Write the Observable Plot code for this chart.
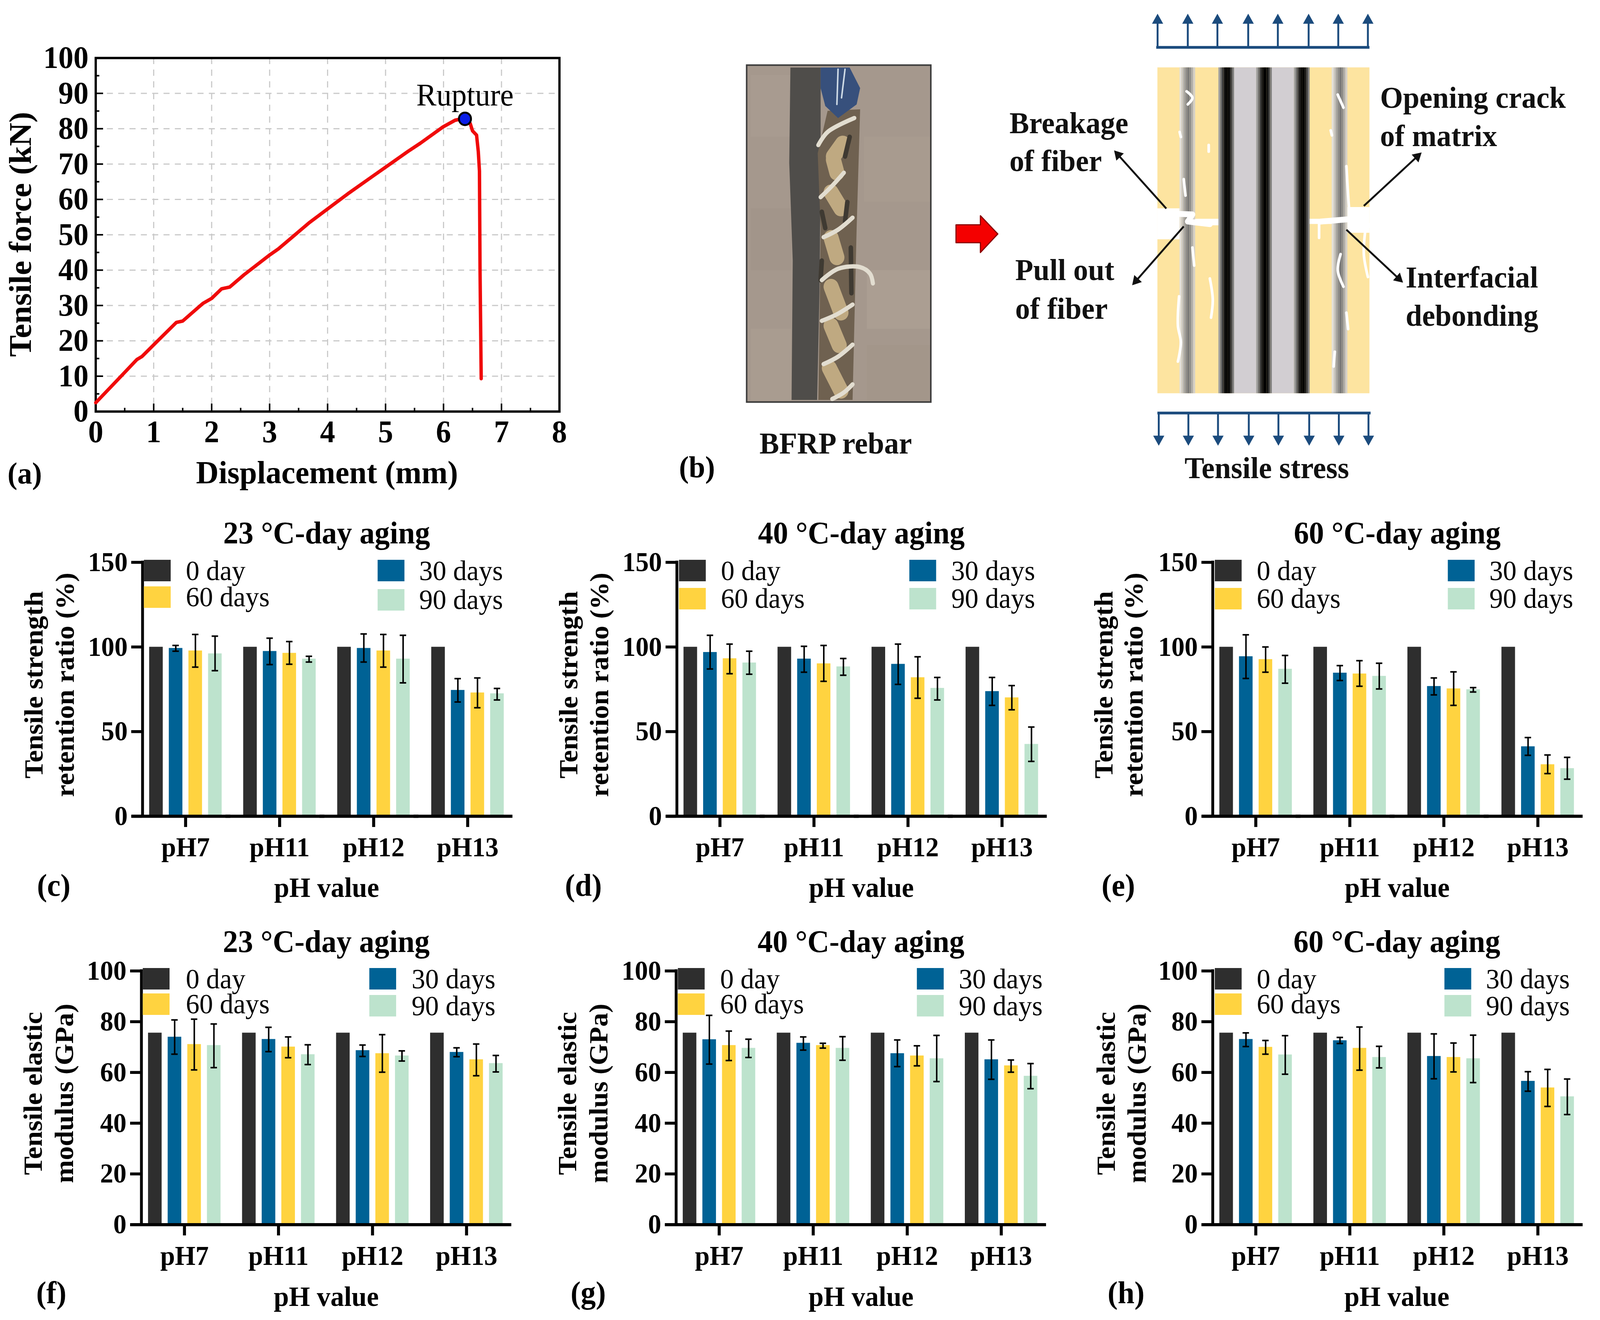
<!DOCTYPE html>
<html><head><meta charset="utf-8">
<script src="https://cdn.jsdelivr.net/npm/d3@7"></script>
<script src="https://cdn.jsdelivr.net/npm/@observablehq/plot@0.6"></script>
<style>
html,body{margin:0;padding:0;background:#fff;overflow:hidden;}
#page{position:relative;width:4237px;height:3379px;overflow:hidden;background:#fff;font-family:"Liberation Serif",serif;color:#000;transform-origin:0 0;}
#page svg{position:absolute;max-width:none;overflow:visible;background:transparent;}
.t{position:absolute;left:0;top:0;white-space:pre;line-height:1;transform-origin:0 0;}
.s{position:absolute;}
</style></head><body><div id="page"></div>
<script>
// ---------- data: shared categories ----------
const phValues = ["pH7","pH11","pH12","pH13"];
const durations = ["0 day","30 days","60 days","90 days"];
const durationColors = ["#2e2e2e","#006295","#ffd340","#bde3cd"];
const legendOrder = ["0 day","60 days","30 days","90 days"];

// ---------- data: tensile strength retention (%) rows pH, columns 30/60/90 days ----------
const base0Strength = 100;
const strength23 = [[99.3,97.8,96.1],[97.5,96.4,93.0],[99.3,97.8,93.0],[74.5,73.0,72.5]];
const strength23Low = [[97.5,88.1,86.0],[89.6,89.8,91.1],[91.1,88.1,78.8],[67.5,64.1,68.7]];
const strength23High = [[100.9,107.4,106.4],[105.2,103.2,94.5],[107.7,107.4,106.9],[81.3,81.7,75.5]];
const strength40 = [[96.9,93.2,90.7],[93.0,90.2,88.4],[89.9,82.0,75.7],[73.8,70.1,42.6]];
const strength40Low = [[87.0,84.2,83.9],[85.1,79.7,83.3],[77.9,69.7,68.7],[65.5,62.9,32.4]];
const strength40High = [[106.9,101.7,97.5],[100.4,100.9,93.2],[101.7,94.2,82.0],[82.0,77.2,52.7]];
const strength60 = [[94.4,92.7,87.0],[84.7,84.2,82.8],[76.8,75.4,74.9],[41.2,30.6,28.3]];
const strength60Low = [[81.4,85.1,78.6],[80.2,76.8,75.2],[71.7,65.5,73.4],[36.0,25.2,21.9]];
const strength60High = [[107.2,100.0,95.0],[89.0,91.9,90.4],[81.7,85.3,76.0],[46.5,36.2,34.8]];

// ---------- data: tensile elastic modulus (GPa) ----------
const base0Modulus = 75.6;
const modulus23 = [[74.0,71.1,70.7],[73.1,70.1,67.1],[68.7,67.5,66.6],[68.0,65.1,63.6]];
const modulus23Low = [[67.2,61.0,61.9],[68.2,65.8,63.1],[66.3,60.1,64.5],[66.2,58.7,60.2]];
const modulus23High = [[80.7,81.0,79.1],[77.8,74.0,70.9],[70.8,74.9,68.5],[69.7,71.2,66.7]];
const modulus40 = [[73.0,70.7,69.6],[71.6,70.7,69.6],[67.5,66.6,65.5],[65.1,62.7,58.6]];
const modulus40Low = [[63.3,64.7,65.9],[68.8,69.6,64.8],[62.3,62.6,56.4],[57.3,60.1,53.6]];
const modulus40High = [[82.5,76.3,73.1],[74.0,71.5,74.1],[72.8,70.5,74.6],[72.8,64.9,63.5]];
const modulus60 = [[73.1,70.0,67.0],[72.6,69.6,66.0],[66.4,66.0,65.5],[56.6,54.0,50.5]];
const modulus60Low = [[70.2,67.2,59.3],[71.4,60.9,61.8],[57.5,60.2,56.0],[52.6,46.6,43.4]];
const modulus60High = [[75.6,72.6,74.5],[73.8,77.9,70.3],[75.2,71.6,74.7],[60.3,61.2,57.4]];

// ---------- data: load-displacement curve, panel (a) ----------
const displacement = [0,0.35,0.71,0.8,1.1,1.39,1.5,1.85,2.0,2.17,2.31,2.56,3.01,3.15,3.69,4.0,4.35,4.79,5.38,5.6,5.99,6.2,6.37,6.46,6.5,6.57,6.6,6.62,6.63,6.65];
const tensileForce = [2.5,8.5,14.7,15.6,20.5,25.2,25.6,30.6,32,34.7,35.2,38.7,44.4,46,53.5,57.3,61.6,66.7,73.5,75.9,80.5,82.4,83,81.5,79.4,78.2,73.5,68,40,9.3];
const ruptureX = 6.37, ruptureY = 82.8;
const xTicksA = [0,1,2,3,4,5,6,7,8];
const xMinorA = [0.5,1.5,2.5,3.5,4.5,5.5,6.5,7.5];
const yTicksA = [0,10,20,30,40,50,60,70,80,90,100];
const yMinorA = [5,15,25,35,45,55,65,75,85,95];

// ---------- helpers ----------
const page = document.getElementById("page");
// the browser window is narrower than the reference: the whole drawing is fitted to its width
page.style.transform = `scaleX(${Math.min(1, document.documentElement.clientWidth/4237)})`;
const SERIF = '"Liberation Serif", serif';
function label(text,x,y,size,{bold=true,anchor="start",rotate=0,color="#000"}={}){
  const d=document.createElement("div");d.className="t";d.textContent=text;
  d.style.fontSize=size+"px";d.style.fontWeight=bold?"bold":"normal";d.style.color=color;
  const ax=anchor==="middle"?"-50%":anchor==="end"?"-100%":"0";
  d.style.transform=`translate(${x}px,${y}px) rotate(${rotate}deg) translate(${ax},-0.8375em)`;
  page.appendChild(d);
}
function swatch(x,y,w,h,c){
  const d=document.createElement("div");d.className="s";
  d.style.cssText+=`left:${x}px;top:${y}px;width:${w}px;height:${h}px;background:${c};`;
  page.appendChild(d);
}
function place(svg,left,top){svg.style.left=left+"px";svg.style.top=top+"px";page.appendChild(svg);}
function table(mean,low,high,base){
  const rows=[];
  phValues.forEach((ph,i)=>{
    rows.push({ph,day:durations[0],v:base});
    durations.slice(1).forEach((day,j)=>rows.push({ph,day,v:mean[i][j],lo:low[i][j],hi:high[i][j]}));
  });
  return rows;
}

// ---------- panels (c)-(h) ----------
const W = 944.2, ML = 300, MT = 50, MB = 140, MR = 60;
const strengthRow = {yMax:150,yTicks:[0,50,100,150],yTop:1439,y0:2089,lines:["Tensile strength","retention ratio (%)"],yc:1753,
  titleBase:1391,valueBase:2296,letterBase:2293,rowH:55,row1:1433};
const modulusRow = {yMax:100,yTicks:[0,20,40,60,80,100],yTop:2484.5,y0:3134,lines:["Tensile elastic","modulus (GPa)"],yc:2799,
  titleBase:2437,valueBase:3343,letterBase:3336,rowH:55,row1:2478};
const panels = [
 {r:strengthRow,base:base0Strength,m:strength23,l:strength23Low,h:strength23High,title:"23 °C-day aging",bar:392,cx:865,lab:"(c)",labX:98,b1:113,b2:196,sw1:381,sw2:1000,tx1:492,tx2:1110,rowL:1501,rowR:1508,tL:1552,tR:1559},
 {r:strengthRow,base:base0Strength,m:strength40,l:strength40Low,h:strength40High,title:"40 °C-day aging",bar:1807,cx:2281,lab:"(d)",labX:1496,b1:1529,b2:1611,sw1:1798,sw2:2408,tx1:1909,tx2:2519,rowL:1505,rowR:1505,tL:1556,tR:1556},
 {r:strengthRow,base:base0Strength,m:strength60,l:strength60Low,h:strength60High,title:"60 °C-day aging",bar:3226,cx:3700,lab:"(e)",labX:2917,b1:2947,b2:3026,sw1:3217,sw2:3834,tx1:3328,tx2:3944,rowL:1505,rowR:1505,tL:1556,tR:1556},
 {r:modulusRow,base:base0Modulus,m:modulus23,l:modulus23Low,h:modulus23High,title:"23 °C-day aging",bar:389,cx:864,lab:"(f)",labX:96,b1:111,b2:194,sw1:378,sw2:978,tx1:492,tx2:1090,rowL:2543,rowR:2547,tL:2594,tR:2599},
 {r:modulusRow,base:base0Modulus,m:modulus40,l:modulus40Low,h:modulus40High,title:"40 °C-day aging",bar:1805,cx:2280,lab:"(g)",labX:1511,b1:1526,b2:1609,sw1:1795,sw2:2428,tx1:1907,tx2:2539,rowL:2543,rowR:2547,tL:2594,tR:2599},
 {r:modulusRow,base:base0Modulus,m:modulus60,l:modulus60Low,h:modulus60High,title:"60 °C-day aging",bar:3226,cx:3699,lab:"(h)",labX:2933,b1:2953,b2:3034,sw1:3217,sw2:3825,tx1:3328,tx2:3935,rowL:2543,rowR:2547,tL:2594,tR:2599},
];
panels.forEach(p=>{
  const r=p.r, rows=table(p.m,p.l,p.h,p.base), errs=rows.filter(d=>d.lo!=null);
  const svg=Plot.plot({
    width:W+ML+MR,height:(r.y0-r.yTop)+MT+MB,
    marginLeft:ML,marginRight:MR,marginTop:MT,marginBottom:MB,
    style:{fontFamily:SERIF,fontWeight:"bold",background:"transparent",overflow:"visible",color:"#000"},
    fx:{domain:phValues,paddingInner:0.214,paddingOuter:0,axis:null,label:null},
    x:{domain:durations,paddingInner:0.3,paddingOuter:0,axis:null,label:null},
    y:{domain:[0,r.yMax],axis:null,label:null},
    color:{domain:durations,range:durationColors},
    marks:[
      Plot.barY(rows,{fx:"ph",x:"day",y:"v",fill:"day"}),
      Plot.ruleX(errs,{fx:"ph",x:"day",y1:"lo",y2:"hi",stroke:"#000",strokeWidth:4}),
      Plot.tickY(errs,{fx:"ph",x:"day",y:"lo",stroke:"#000",strokeWidth:4,insetLeft:9.5,insetRight:9.5}),
      Plot.tickY(errs,{fx:"ph",x:"day",y:"hi",stroke:"#000",strokeWidth:4,insetLeft:9.5,insetRight:9.5}),
      Plot.ruleX([{ph:phValues[0],day:durations[0]}],{fx:"ph",x:"day",y1:()=>0,y2:()=>r.yMax,dx:-36,stroke:"#000",strokeWidth:7.5,strokeLinecap:"square"}),
      Plot.ruleY([0],{stroke:"#000",strokeWidth:8,insetLeft:-45,insetRight:-21}),
      Plot.axisY({anchor:"left",ticks:r.yTicks,tickSize:28,tickPadding:10,dx:-17.5,fontSize:70,stroke:"#000",strokeWidth:7.5,fill:"#000",label:null,tickFormat:d=>String(d)}),
      Plot.axisFx({anchor:"bottom",tickSize:28,tickPadding:25,fontSize:70,stroke:"#000",strokeWidth:8,fill:"#000",label:null})
    ]
  });
  place(svg,p.bar-ML,r.yTop-MT);
  label(p.title,p.cx,r.titleBase,80,{anchor:"middle"});
  label(r.lines[0],p.b1,r.yc,71,{anchor:"middle",rotate:-90});
  label(r.lines[1],p.b2,r.yc,71,{anchor:"middle",rotate:-90});
  label("pH value",p.cx,r.valueBase,72,{anchor:"middle"});
  label(p.lab,p.labX,r.letterBase,80);
  const col=c=>durationColors[durations.indexOf(c)];
  swatch(p.sw1,r.row1,71,r.rowH,col(legendOrder[0]));
  swatch(p.sw1,p.rowL,71,r.rowH,col(legendOrder[1]));
  swatch(p.sw2,r.row1,71,r.rowH,col(legendOrder[2]));
  swatch(p.sw2,p.rowR,71,r.rowH,col(legendOrder[3]));
  const t1=r.row1+52;
  label(legendOrder[0],p.tx1,t1,72,{bold:false});
  label(legendOrder[1],p.tx1,p.tL,72,{bold:false});
  label(legendOrder[2],p.tx2,t1,72,{bold:false});
  label(legendOrder[3],p.tx2,p.tR,72,{bold:false});
});

// ---------- panel (a) ----------
const curve = displacement.map((x,i)=>({x,y:tensileForce[i]}));
const aLeft=253,aRight=1481,aTop=148,aBottom=1053;
const aSvg=Plot.plot({
  width:aRight+60,height:aBottom+130,marginLeft:aLeft,marginRight:60,marginTop:aTop,marginBottom:130,
  style:{fontFamily:SERIF,fontWeight:"bold",background:"transparent",overflow:"visible",color:"#000"},
  x:{domain:[0,8],axis:null,label:null},y:{domain:[0,100],axis:null,label:null},
  marks:[
    Plot.ruleX(xTicksA.slice(1,-1),{stroke:"#c9c9c9",strokeWidth:3,strokeDasharray:"16,14"}),
    Plot.ruleY(yTicksA.slice(1,-1),{stroke:"#c9c9c9",strokeWidth:3,strokeDasharray:"16,14"}),
    Plot.ruleX(xTicksA,{y1:()=>0,y2:()=>2.2,stroke:"#000",strokeWidth:4}),
    Plot.ruleX(xMinorA,{y1:()=>0,y2:()=>1,stroke:"#000",strokeWidth:4}),
    Plot.ruleY(yTicksA,{x1:()=>0,x2:()=>0.13,stroke:"#000",strokeWidth:4}),
    Plot.ruleY(yMinorA,{x1:()=>0,x2:()=>0.065,stroke:"#000",strokeWidth:4}),
    Plot.frame({stroke:"#000",strokeWidth:6}),
    Plot.line(curve,{x:"x",y:"y",stroke:"#f00a0a",strokeWidth:9,strokeLinejoin:"round",strokeLinecap:"round"}),
    Plot.dot([{x:ruptureX,y:ruptureY}],{x:"x",y:"y",r:16,fill:"#0a1ee8",stroke:"#000",strokeWidth:5}),
    Plot.text(["Rupture"],{x:()=>ruptureX,y:()=>ruptureY,dy:-60,fontSize:80,fontWeight:"normal",textAnchor:"middle",fill:"#000"}),
    Plot.axisX({anchor:"bottom",ticks:xTicksA,tickSize:0,tickPadding:22,fontSize:80,fill:"#000",label:null,tickFormat:d=>String(d)}),
    Plot.axisY({anchor:"left",ticks:yTicksA,tickSize:0,tickPadding:19,fontSize:80,fill:"#000",label:null,tickFormat:d=>String(d)})
  ]
});
place(aSvg,0,0);
label("Tensile force (kN)",82,600,83,{anchor:"middle",rotate:-90});
label("Displacement (mm)",866,1238,83,{anchor:"middle"});
label("(a)",20,1238,78);

// ---------- panel (b) schematic (no measured values; drawing units of the panel) ----------
const photoBox = {x1:123,x2:440,y1:200,y2:1235};
const gravelPatches = [[123,440,200,1235,"#a5988d"],[130,200,230,420,"#a89b90"],[325,440,420,620,"#a89b8f"],[130,200,640,830,"#a2958a"],[330,440,830,1010,"#ab9e92"],[130,200,1010,1230,"#a99c90"],[330,440,1060,1230,"#a3968a"]];
const shadowPath = [[198,207],[250,207],[250,560],[248,900],[244,1228],[200,1228],[202,800],[196,500]];
const capPath = [[250,207],[300,207],[318,270],[312,320],[280,362],[258,325],[250,270]];
const rodPath = [[262,340],[318,335],[312,700],[308,1000],[305,1228],[246,1228],[248,1000],[250,700],[245,470]];
const rodSegments = [[[288,440],[272,480]],[[272,490],[278,530]],[[268,590],[285,640]],[[268,730],[278,790]],[[268,880],[285,960]],[[268,1000],[282,1060]],[[265,1130],[285,1200]]];
const darkSegments = [[[296,620],[292,680]],[[300,420],[292,480]],[[252,650],[258,700]],[[302,760],[303,900]],[[252,800],[250,860]]];
const strands = [[[246,445],[262,405],[308,362]],[[250,605],[270,570],[290,530]],[[255,728],[280,705],[305,668]],[[252,860],[280,825],[318,820],[335,840],[340,870]],[[252,985],[278,965],[305,935]],[[255,1118],[280,1095],[305,1058]],[[270,1225],[290,1205],[305,1180]]];
const capLines = [[[280,212],[278,320]],[[292,212],[286,300]]];
const redArrow = [[483,690],[525,690],[525,662],[555,718],[525,775],[525,745],[483,745],[483,690]];
const matrixBox = {x1:830,x2:1195,y1:207,y2:1208};
const gapBoxes = [[830,868,640,735],[1157,1195,636,715],[895,935,672,692],[1092,1130,672,688]];
const greyRamp = ["#e4e0d8","#c9c6c0","#a8a6a2","#8d8c8a","#777","#8d8c8a","#b0aeaa","#d4d0c8"];
const greyBands = [868,1130];
const coreBands = [935,1000,1065];
const coreRamp = ["#a0a0a0","#707070","#3c3c3c","#141414","#000","#000","#101010","#404040","#808080"];
const coreGrey = [[962,1000],[1027,1065]];
const thinCracks = [
 [[880,280],[890,300],[882,320]],[[868,405],[870,420]],[[918,445],[918,465]],[[875,550],[878,600]],[[890,760],[893,815]],
 [[920,855],[925,920],[922,975]],[[867,910],[865,1000],[870,1050],[865,1110]],[[1140,290],[1150,330]],[[1128,400],[1130,415]],
 [[1155,510],[1158,600],[1160,650]],[[1108,680],[1108,730]],[[1145,780],[1140,830],[1150,880]],[[1155,960],[1158,1010]],[[1135,1080],[1133,1125]],
 [[1188,700],[1185,780],[1192,850]]
];
const mainCracks = [[[842,655],[890,658],[882,680],[920,688]],[[1110,680],[1165,672],[1192,692]]];
const pointers = [[845,640,762,475],[875,695,793,862],[1185,632,1277,480],[1155,705,1245,855]];
const topArrowX = [830,882,933,986,1037,1090,1141,1192];
const bottomArrowX = [832,883,934,987,1038,1091,1142,1193];
const navy = "#1b4b7d";
const schematicLeft = [
 ["Breakage",575,408],["of fiber",575,525],["Pull out",585,860],["of fiber",585,978],
 ["Opening crack",1213,330],["of matrix",1213,448],["Interfacial",1257,882],["debonding",1257,1000]
];
const schematicCentre = [["BFRP rebar",276,1392],["Tensile stress",1018,1468]];
const pts = a=>a.map(([x,y])=>({x,y}));
const poly = (a,o)=>Plot.line(pts(a.concat([a[0]])),{x:"x",y:"y",...o});
const strokes = (list,o)=>list.map(a=>Plot.line(pts(a),{x:"x",y:"y",...o}));
const ramp=(x1,w,colors)=>colors.map((fill,i)=>({x1:x1+w*i/colors.length,x2:x1+w*(i+1)/colors.length,fill}));
const slices=[...greyBands.flatMap(x=>ramp(x,27,greyRamp)),...coreBands.flatMap(x=>ramp(x,27,coreRamp))];
const unitX=2400/1560, unitY=1300/1560;
const headAngle=d=>Math.atan2((d[2]-d[0])*unitX,-(d[3]-d[1])*unitY)*180/Math.PI;
const bSvg=Plot.plot({
  width:2400,height:1300,margin:0,
  style:{fontFamily:SERIF,fontWeight:"bold",background:"transparent",overflow:"visible",color:"#000"},
  x:{domain:[0,1560],axis:null,label:null},y:{domain:[1560,0],axis:null,label:null},
  marks:[
    Plot.rect(gravelPatches,{x1:d=>d[0],x2:d=>d[1],y1:d=>d[2],y2:d=>d[3],fill:d=>d[4]}),
    poly(shadowPath,{fill:"#4f4d4a",stroke:"none"}),
    poly(rodPath,{fill:"#6f6150",stroke:"none"}),
    ...strokes(rodSegments,{stroke:"#bfa981",strokeWidth:40,strokeLinecap:"round"}),
    ...strokes(darkSegments,{stroke:"#3f3a32",strokeWidth:12,strokeLinecap:"round"}),
    poly(capPath,{fill:"#37507c",stroke:"none"}),
    ...strokes(capLines,{stroke:"#cfdbe6",strokeWidth:4}),
    ...strokes(strands,{stroke:"#e2ddd0",strokeWidth:11,curve:"catmull-rom",strokeLinecap:"round"}),
    Plot.rect([photoBox],{x1:"x1",x2:"x2",y1:"y1",y2:"y2",fill:"none",stroke:"#3c3c3c",strokeWidth:4}),
    poly(redArrow,{fill:"#f40000",stroke:"#8a0000",strokeWidth:3}),
    Plot.rect([matrixBox],{x1:"x1",x2:"x2",y1:"y1",y2:"y2",fill:"#fde4a0"}),
    Plot.rect(coreGrey,{x1:d=>d[0],x2:d=>d[1],y1:()=>matrixBox.y1,y2:()=>matrixBox.y2,fill:"#d2ced2"}),
    Plot.rect(slices,{x1:"x1",x2:"x2",y1:()=>matrixBox.y1,y2:()=>matrixBox.y2,fill:"fill"}),
    Plot.rect(gapBoxes,{x1:d=>d[0],x2:d=>d[1],y1:d=>d[2],y2:d=>d[3],fill:"#fff"}),
    ...strokes(thinCracks,{stroke:"#fff",strokeWidth:7,curve:"catmull-rom",strokeLinecap:"round"}),
    ...strokes(mainCracks,{stroke:"#fff",strokeWidth:15,strokeLinecap:"round"}),
    Plot.link(pointers,{x1:d=>d[0],y1:d=>d[1],x2:d=>d[2],y2:d=>d[3],stroke:"#111",strokeWidth:5}),
    Plot.dot(pointers,{x:d=>d[2],y:d=>d[3],symbol:"triangle",r:10,rotate:headAngle,fill:"#111",stroke:"none"}),
    Plot.ruleY([145],{x1:()=>828,x2:()=>1195,stroke:navy,strokeWidth:7}),
    Plot.ruleY([1268],{x1:()=>830,x2:()=>1197,stroke:navy,strokeWidth:7}),
    Plot.ruleX(topArrowX,{y1:()=>145,y2:()=>60,stroke:navy,strokeWidth:5}),
    Plot.dot(topArrowX,{x:d=>d,y:()=>62,symbol:"triangle",r:11,rotate:0,fill:navy,stroke:"none"}),
    Plot.ruleX(bottomArrowX,{y1:()=>1268,y2:()=>1350,stroke:navy,strokeWidth:5}),
    Plot.dot(bottomArrowX,{x:d=>d,y:()=>1348,symbol:"triangle",r:11,rotate:180,fill:navy,stroke:"none"}),
    Plot.text(schematicLeft,{text:d=>d[0],x:d=>d[1],y:d=>d[2],textAnchor:"start",fontSize:78,lineAnchor:"bottom",fill:"#111"}),
    Plot.text(schematicCentre,{text:d=>d[0],x:d=>d[1],y:d=>d[2],textAnchor:"middle",fontSize:78,lineAnchor:"bottom",fill:"#111"})
  ]
});
place(bSvg,1788,0);
label("(b)",1798,1222,78);
</script></body></html>
